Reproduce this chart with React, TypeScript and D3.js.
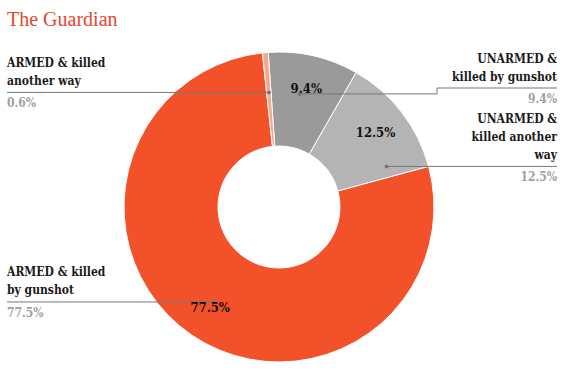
import React from "react";
import * as d3 from "d3";

// slices clockwise from the top
const categories = [
  "UNARMED & killed by gunshot",
  "UNARMED & killed another way",
  "ARMED & killed by gunshot",
  "ARMED & killed another way",
];
const labelLines = [
  ["UNARMED &", "killed by gunshot"],
  ["UNARMED &", "killed another", "way"],
  ["ARMED & killed", "by gunshot"],
  ["ARMED & killed", "another way"],
];
const shares = [9.4, 12.5, 77.5, 0.6];
const colors = ["#9a9a9a", "#b4b4b4", "#f2512a", "#f8a68c"];

const W = 564;
const H = 372;
const cx = 279;
const cy = 207;
const outerR = 155;
const innerR = 61;
const rad = Math.PI / 180;

// label layout: side, shift of the dot along the ring, text line y for right side
const side = ["right", "right", "left", "left"];
const dotShift = [-2.5, 17, 0, 0];
const rightLineY = [88, null, null, null];
const elbowX = 437;
const labelFont = "'DejaVu Serif', serif";

export default function App() {
  const pie = d3
    .pie<number>()
    .sort(null)
    .value((d) => d)
    .startAngle(-4 * rad)
    .endAngle(356 * rad);
  const arcs = pie(shares);

  const arc = d3.arc<d3.PieArcDatum<number>>().innerRadius(innerR).outerRadius(outerR);
  const labelArc = d3.arc<d3.PieArcDatum<number>>().innerRadius(122).outerRadius(122);

  const fmt = (v: number) => d3.format(".1f")(v) + "%";

  return (
    <svg
      width={W}
      height={H}
      style={{ position: "absolute", left: 0, top: 0, background: "#fff" }}
    >
      <text x={7} y={26} fontFamily="'Liberation Serif', serif" fontSize={20} fill="#e5472d">
        The Guardian
      </text>
      <g transform={`translate(${cx},${cy})`}>
        {arcs.map((a, i) => (
          <path key={categories[i]} d={arc(a) || ""} fill={colors[i]} stroke="#fff" strokeWidth={1} />
        ))}
      </g>
      {arcs.map((a, i) => {
        const ang = (a.startAngle + a.endAngle) / 2 + dotShift[i] * rad;
        const dx = cx + 115 * Math.sin(ang);
        const dy = cy - 115 * Math.cos(ang);
        const lineY = rightLineY[i] ?? dy;
        const lines = labelLines[i];
        const isRight = side[i] === "right";
        const tx = isRight ? 557 : 7;
        const path = isRight
          ? `M${dx},${dy}H${elbowX}V${lineY}H${tx}`
          : `M${tx},${lineY}H${dx}`;
        return (
          <g key={"lab" + i}>
            <path d={path} fill="none" stroke="#777" strokeWidth={1} />
            <circle cx={dx} cy={dy} r={2} fill="#777" />
            {lines.map((t, j) => (
              <text
                key={j}
                x={tx}
                y={lineY - 7.5 - 18 * (lines.length - 1 - j)}
                textAnchor={isRight ? "end" : "start"}
                fontFamily={labelFont}
                fontWeight="bold"
                fontSize={12}
                fill="#1a1a1a"
                style={{ fontStretch: "condensed" }}
              >
                {t}
              </text>
            ))}
            <text
              x={tx}
              y={lineY + 15}
              textAnchor={isRight ? "end" : "start"}
              fontFamily={labelFont}
              fontWeight="bold"
              fontSize={12}
              fill="#a0a0a0"
              style={{ fontStretch: "condensed" }}
            >
              {fmt(shares[i])}
            </text>
          </g>
        );
      })}
      <g transform={`translate(${cx},${cy})`}>
        {arcs
          .filter((a) => a.data >= 5)
          .map((a) => {
            const [x, y] = labelArc.centroid(a);
            return (
              <text
                key={"in" + a.index}
                x={x}
                y={y}
                dy="0.35em"
                textAnchor="middle"
                fontFamily={labelFont}
                fontWeight="bold"
                fontSize={13}
                fill="#111"
                style={{ fontStretch: "condensed" }}
              >
                {fmt(a.data)}
              </text>
            );
          })}
      </g>
    </svg>
  );
}
